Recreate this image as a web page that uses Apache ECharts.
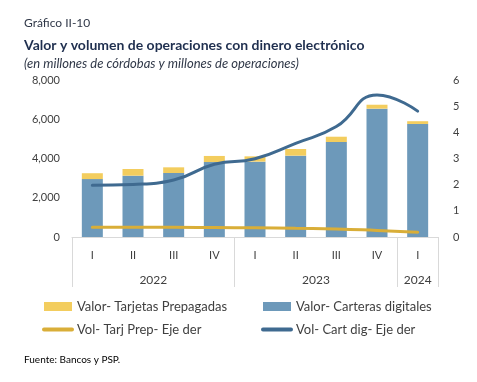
<!DOCTYPE html>
<html><head><meta charset="utf-8">
<script src="https://cdn.jsdelivr.net/npm/echarts@6/dist/echarts.min.js"></script>
<style>html,body{margin:0;padding:0;background:#fff}#c{width:477px;height:382px}</style>
</head><body><div id="c"></div>
<script>
const quarters = ['I','II','III','IV','I','II','III','IV','I'];
const years = ['2022','2023','2024'];
const yearSpans = [4,4,1];
const valorCarteras = [2950,3125,3260,3820,3840,4145,4840,6540,5760];
const valorTarjetas = [300,340,290,310,270,340,270,200,140];
const volCartDig = [1.98,2.01,2.18,2.78,2.99,3.58,4.22,5.43,4.81];
const volTarjPrep = [0.37,0.37,0.37,0.36,0.35,0.33,0.31,0.25,0.18];
const leftTicks = [0,2000,4000,6000,8000];
const rightTicks = [0,1,2,3,4,5,6];

const bounds=[0]; yearSpans.forEach(s=>bounds.push(bounds[bounds.length-1]+s));
const centers = yearSpans.map((s,i)=>bounds[i]+s/2);

const FONT = 'Lato';
const txt = '#404040';
const chart = echarts.init(document.getElementById('c'));
chart.setOption({
  animation:false,
  textStyle:{fontFamily:FONT},
  title:[
    {text:'Gráfico II-10',left:19,top:12,textStyle:{fontFamily:FONT,fontSize:12,fontWeight:'normal',color:'#303848'}},
    {text:'Valor y volumen de operaciones con dinero electrónico',left:19,top:33,textStyle:{fontFamily:FONT,fontSize:14,fontWeight:'bold',color:'#1f2f4f'}},
    {text:'(en millones de córdobas y millones de operaciones)',left:19,top:52,textStyle:{fontFamily:FONT,fontSize:13,fontStyle:'italic',fontWeight:'normal',color:'#303848'}},
    {text:'Fuente: Bancos y PSP.',left:19,top:350,textStyle:{fontFamily:FONT,fontSize:10,fontWeight:'normal',color:'#000'}}
  ],
  grid:{left:72,right:39,top:80,bottom:145},
  legend:[
    {left:37,top:295,orient:'vertical',itemGap:10,itemWidth:28,itemHeight:9,
     textStyle:{fontFamily:FONT,fontSize:13,color:txt},
     data:[{name:'Valor- Tarjetas Prepagadas',icon:'rect'},
           {name:'Vol- Tarj Prep- Eje der',itemStyle:{opacity:0},lineStyle:{width:4,cap:'round'}}]},
    {left:256,top:295,orient:'vertical',itemGap:10,itemWidth:28,itemHeight:9,
     textStyle:{fontFamily:FONT,fontSize:13,color:txt},
     data:[{name:'Valor- Carteras digitales',icon:'rect'},
           {name:'Vol- Cart dig- Eje der',itemStyle:{opacity:0},lineStyle:{width:4,cap:'round'}}]}
  ],
  xAxis:[
    {type:'category',data:quarters,axisLine:{lineStyle:{color:'#d9d9d9'}},axisTick:{show:false},
     axisLabel:{color:txt,fontSize:11,margin:13}},
    {type:'value',min:0,max:bounds[bounds.length-1],position:'bottom',axisLine:{show:false},
     splitLine:{show:false},
     axisTick:{show:true,customValues:bounds,length:50,lineStyle:{color:'#d9d9d9'}},
     axisLabel:{customValues:centers,margin:37,color:txt,fontSize:12,
       formatter:function(v){const i=centers.indexOf(v);return i>=0?years[i]:'';}}}
  ],
  yAxis:[
    {type:'value',min:0,max:8000,interval:2000,axisLine:{show:false},axisTick:{show:false},splitLine:{show:false},
     axisLabel:{color:txt,fontSize:11,margin:12,formatter:v=>v.toLocaleString('en-US')}},
    {type:'value',min:0,max:6,interval:1,axisLine:{show:false},axisTick:{show:false},splitLine:{show:false},
     axisLabel:{color:txt,fontSize:11,margin:15}}
  ],
  series:[
    {name:'Valor- Carteras digitales',type:'bar',stack:'v',barWidth:21,data:valorCarteras,
     itemStyle:{color:'#6d99ba'}},
    {name:'Valor- Tarjetas Prepagadas',type:'bar',stack:'v',barWidth:21,data:valorTarjetas,
     itemStyle:{color:'#f3cd5e'}},
    {name:'Vol- Tarj Prep- Eje der',type:'line',yAxisIndex:1,smooth:true,symbol:'none',data:volTarjPrep,
     lineStyle:{color:'#d9ae38',width:3,cap:'round'},itemStyle:{color:'#d9ae38'}},
    {name:'Vol- Cart dig- Eje der',type:'line',yAxisIndex:1,smooth:true,symbol:'none',data:volCartDig,
     lineStyle:{color:'#3f6a90',width:3,cap:'round'},itemStyle:{color:'#3f6a90'}}
  ]
});
</script></body></html>
